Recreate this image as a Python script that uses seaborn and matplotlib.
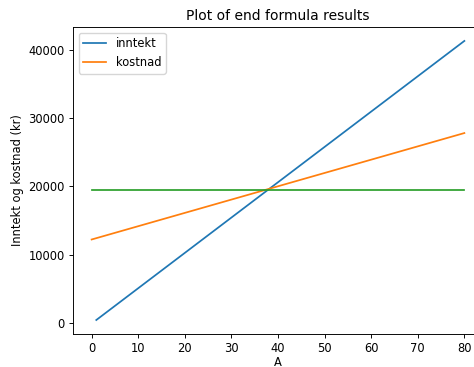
import matplotlib
matplotlib.use("Agg")
import matplotlib.pyplot as plt
import seaborn as sns

# values
A_inntekt = [1, 80]
inntekt = [400, 41300]
A_kostnad = [0, 80]
kostnad = [12200, 27800]
A_flat = [0, 80]
flat = [19500, 19500]

plt.rcParams.update({
    "font.size": 8.3,
    "axes.titlesize": 10,
    "axes.linewidth": 0.67,
    "xtick.major.width": 0.67,
    "ytick.major.width": 0.67,
    "xtick.major.size": 2.9,
    "ytick.major.size": 2.9,
    "xtick.major.pad": 2.9,
    "ytick.major.pad": 2.9,
    "lines.linewidth": 1.25,
})

fig = plt.figure(figsize=(4.74, 3.67), dpi=100)
ax = fig.add_axes([0.154, 0.09, 0.865, 0.8365])

sns.lineplot(x=A_inntekt, y=inntekt, ax=ax, color="#1f77b4", label="inntekt")
sns.lineplot(x=A_kostnad, y=kostnad, ax=ax, color="#ff7f0e", label="kostnad")
sns.lineplot(x=A_flat, y=flat, ax=ax, color="#2ca02c")

ax.set_xticks(range(0, 81, 10))
ax.set_yticks(range(0, 40001, 10000))
ax.set_title("Plot of end formula results", pad=5)
ax.set_xlabel("A", labelpad=1)
ax.set_ylabel("Inntekt og kostnad (kr)", labelpad=3)
ax.legend(loc="upper left")

fig.savefig("out.png", dpi=100)
